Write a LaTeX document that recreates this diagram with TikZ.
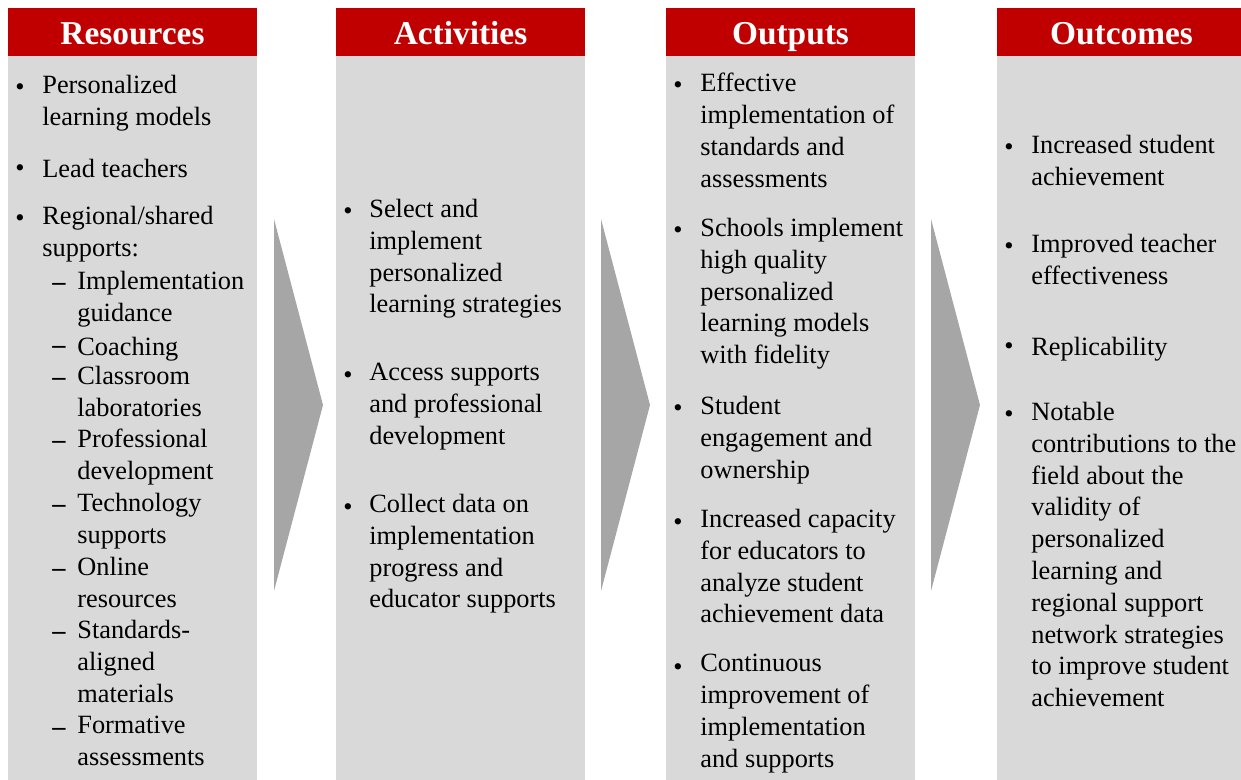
\documentclass[tikz,border=0pt]{standalone}
\usepackage{fontspec}
\setmainfont{Liberation Serif}
\usetikzlibrary{positioning}
\definecolor{headred}{HTML}{C00000}
\definecolor{panelgray}{HTML}{D9D9D9}
\definecolor{chevgray}{HTML}{A6A6A6}

\tikzset{
  colhead/.style={font=\fontsize{19}{22}\selectfont\bfseries, text=white, inner sep=0pt, anchor=base},
  % first baseline sits on the given coordinate
  item/.style={font=\fontsize{15}{18.1}\selectfont, anchor=north west, align=left,
    inner sep=0pt, yshift=12pt, execute at begin node={\rule{0pt}{12pt}}},
  mark dot/.style={font=\fontsize{15}{18.1}\selectfont, anchor=base west, inner sep=0pt}
}

\begin{document}
\begin{tikzpicture}[x=0.02cm, y=-0.02cm]
  \useasboundingbox (0,0) rectangle (1241,780);
  \clip (0,0) rectangle (1241,780);

  % columns
  \foreach \name/\title/\x in {res/Resources/8, act/Activities/336, out/Outputs/666, oc/Outcomes/997} {
    \fill[panelgray] (\x,56) rectangle (\x+249,780);
    \fill[headred] (\x,8) rectangle (\x+249,56);
    \node[colhead] (\name) at (\x+124.5,45) {\title};
  }

  % chevrons between columns
  \foreach \x in {274, 601, 931}
    \fill[chevgray] (\x,219) -- (\x+49,405) -- (\x,591) -- cycle;

  % Resources
  \foreach \txt/\y [count=\i] in {
    {Personalized\\learning models}/96,
    {Lead teachers}/177,
    {Regional/shared\\supports:}/227} {
    \node[mark dot] (res-b\i) at (15,\y) {\textbullet};
    \node[item] (res-t\i) at (42,\y) {\txt};
  }
  \foreach \txt/\y [count=\i] in {
    {Implementation\\guidance}/292,
    {Coaching}/355,
    {Classroom\\laboratories}/387,
    {Professional\\development}/450,
    {Technology\\supports}/514,
    {Online\\resources}/578,
    {Standards-\\aligned\\materials}/641,
    {Formative\\assessments}/737} {
    \node[mark dot] (res-d\i) at (52,\y) {\raisebox{1pt}{\bfseries –}};
    \node[item] (res-s\i) at (77,\y) {\txt};
  }

  % Activities
  \foreach \txt/\y [count=\i] in {
    {Select and\\implement\\personalized\\learning strategies}/220,
    {Access supports\\and professional\\development}/384,
    {Collect data on\\implementation\\progress and\\educator supports}/515} {
    \node[mark dot] (act-b\i) at (343,\y) {\textbullet};
    \node[item] (act-t\i) at (369,\y) {\txt};
  }

  % Outputs
  \foreach \txt/\y [count=\i] in {
    {Effective\\implementation of\\standards and\\assessments}/94,
    {Schools implement\\high quality\\personalized\\learning models\\with fidelity}/239,
    {Student\\engagement and\\ownership}/417,
    {Increased capacity\\for educators to\\analyze student\\achievement data}/530,
    {Continuous\\improvement of\\implementation\\and supports}/675} {
    \node[mark dot] (out-b\i) at (673,\y) {\textbullet};
    \node[item] (out-t\i) at (700,\y) {\txt};
  }

  % Outcomes
  \foreach \txt/\y [count=\i] in {
    {Increased student\\achievement}/156,
    {Improved teacher\\effectiveness}/255,
    {Replicability}/355,
    {Notable\\contributions to the\\field about the\\validity of\\personalized\\learning and\\regional support\\network strategies\\to improve student\\achievement}/423} {
    \node[mark dot] (oc-b\i) at (1004,\y) {\textbullet};
    \node[item] (oc-t\i) at (1031,\y) {\txt};
  }
\end{tikzpicture}
\end{document}
